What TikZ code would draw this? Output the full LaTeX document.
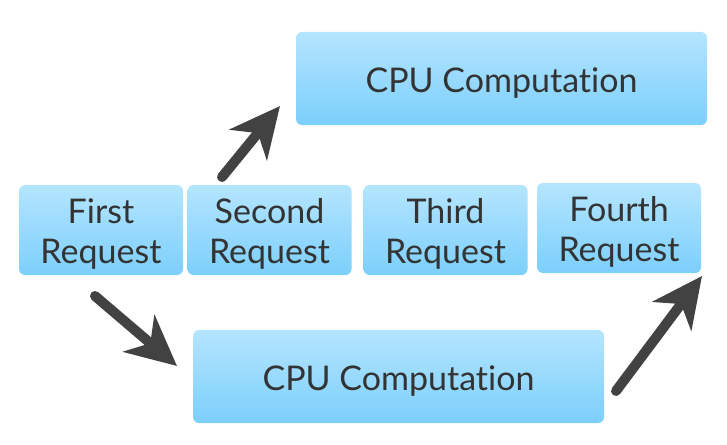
\documentclass[tikz,border=0pt]{standalone}
\usepackage{fontspec}
\setmainfont{Lato}[Ligatures=NoCommon]
\usetikzlibrary{arrows.meta}
\definecolor{boxtop}{RGB}{180,229,254}
\definecolor{boxbottom}{RGB}{124,207,252}
\definecolor{arrowgray}{RGB}{66,66,66}
\begin{document}
\begin{tikzpicture}[x=1pt,y=-1pt,
    box/.style={rounded corners=6pt,top color=boxtop,bottom color=boxbottom,
        draw=none,inner sep=0pt,align=center,text=black!80,
        font=\fontsize{34}{40}\selectfont},
    flow/.style={line width=10pt,line cap=round,draw=arrowgray,
        -{Stealth[length=50pt,width=48pt,inset=15pt]}}]
    \tikzstyle{request}=[box,minimum width=164pt,minimum height=90pt,
        execute at begin node={\rule{0pt}{73pt}}]
    \tikzstyle{cpu}=[box,minimum width=411pt,minimum height=93pt,
        execute at begin node={\rule{0pt}{33pt}}]
    \useasboundingbox (0,0) rectangle (727,444);

    \node[cpu] (cputop) at (501.5,78.5) {CPU Computation};
    \node[request] (first) at (101,230) {First\\Request};
    \node[request] (second) at (269.5,230) {Second\\Request};
    \node[request] (third) at (445.5,230) {Third\\Request};
    \node[request] (fourth) at (619,228) {Fourth\\Request};
    \node[cpu] (cpubottom) at (398.5,376.5) {CPU Computation};

    \coordinate (a1) at (222,177);
    \coordinate (b1) at (280,106);
    \coordinate (a2) at (95,296);
    \coordinate (b2) at (177,366);
    \coordinate (a3) at (616,391);
    \coordinate (b3) at (702,276);
    \draw[flow] (a1) -- (b1);
    \draw[flow] (a2) -- (b2);
    \draw[flow] (a3) -- (b3);
\end{tikzpicture}
\end{document}
